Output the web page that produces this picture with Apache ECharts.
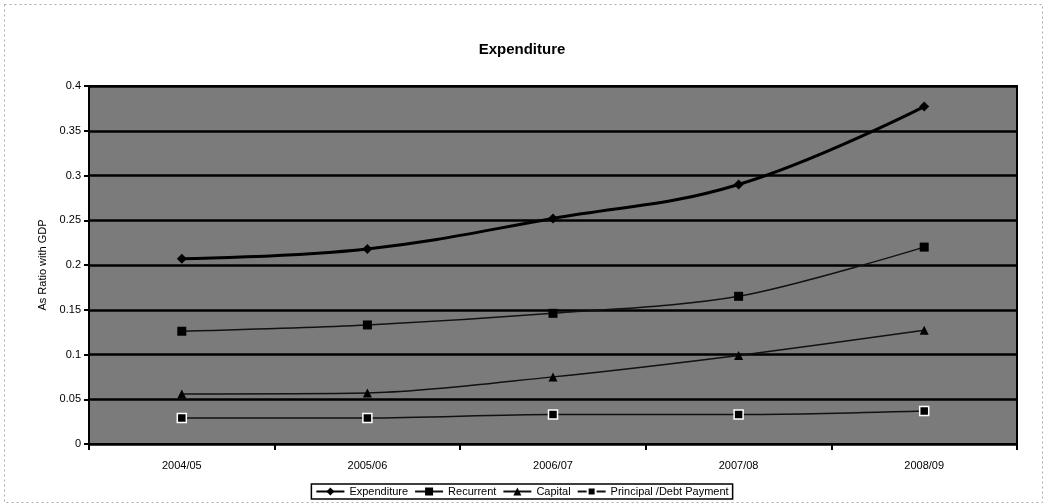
<!DOCTYPE html>
<html><head><meta charset="utf-8">
<script src="https://cdn.jsdelivr.net/npm/echarts@6/dist/echarts.min.js"></script>
<style>html,body{margin:0;padding:0;background:#fff}#c{width:1044px;height:504px}</style>
</head><body><div id="c"></div>
<script>
const categories = ['2004/05','2005/06','2006/07','2007/08','2008/09'];
const expenditure = [0.207,0.218,0.252,0.290,0.377];
const recurrent = [0.126,0.133,0.146,0.165,0.220];
const capital = [0.056,0.057,0.075,0.099,0.127];
const principal = [0.029,0.029,0.033,0.033,0.037];
const yTicks = [0,0.05,0.1,0.15,0.2,0.25,0.3,0.35,0.4];

const chart = echarts.init(document.getElementById('c'));
const font = 'Liberation Sans, Arial, sans-serif';
function ser(name, data, symbol, size, lw, color, smooth) {
  return {name, type:'line', data, symbol, symbolSize:size, smooth: smooth,
    lineStyle:{color:color, width:lw}, itemStyle:{color:'#000', borderColor:'#fff', borderWidth: name.startsWith('Principal')?1.5:0},
    z: 5};
}
chart.setOption({
  animation:false,
  backgroundColor:'#fff',
  graphic:[{type:'rect', left:2, top:2, shape:{width:1038, height:498}, style:{fill:'none', stroke:'#aaa', lineWidth:1, lineDash:[2,3]}, silent:true}],
  title:{text:'Expenditure', left:'center', top:37, textStyle:{fontFamily:font, fontSize:15, fontWeight:'bold', color:'#000'}},
  grid:{left:89, right:27, top:86, bottom:60, backgroundColor:'#7b7b7b', show:true, borderColor:'#000', borderWidth:2},
  legend:{bottom:5, left:'center', itemWidth:28, itemHeight:10, itemGap:6,
    borderColor:'#000', borderWidth:1.5, padding:[2,4], textStyle:{fontFamily:font, fontSize:11, color:'#000'},
    data:['Expenditure','Recurrent','Capital','Principal /Debt Payment']},
  xAxis:{type:'category', data:categories, boundaryGap:true,
    axisLine:{lineStyle:{color:'#000', width:2}}, axisTick:{show:true, length:6, lineStyle:{color:'#000', width:2}},
    axisLabel:{fontFamily:font, fontSize:11, color:'#000', margin:16}},
  yAxis:{type:'value', min:0, max:0.4, interval:0.05, name:'As Ratio with GDP', nameLocation:'middle', nameGap:38,
    nameTextStyle:{fontFamily:font, fontSize:11, color:'#000'},
    axisLine:{show:true, lineStyle:{color:'#000', width:2}}, axisTick:{show:true, length:5, lineStyle:{color:'#000', width:2}},
    axisLabel:{fontFamily:font, fontSize:11, color:'#000', formatter: v => {const t=yTicks.find(x=>Math.abs(x-v)<1e-9); return t===undefined?'':String(t);}},
    splitLine:{show:true, lineStyle:{color:'#000', width:2.5}}},
  series:[
    ser('Expenditure', expenditure, 'diamond', 10, 3, '#000', 0.4),
    ser('Recurrent', recurrent, 'rect', 9, 1.5, '#111', 0.3),
    ser('Capital', capital, 'triangle', 9, 1.5, '#111', 0.3),
    ser('Principal /Debt Payment', principal, 'rect', 9, 1.5, '#111', 0.3)
  ]
});
</script></body></html>
